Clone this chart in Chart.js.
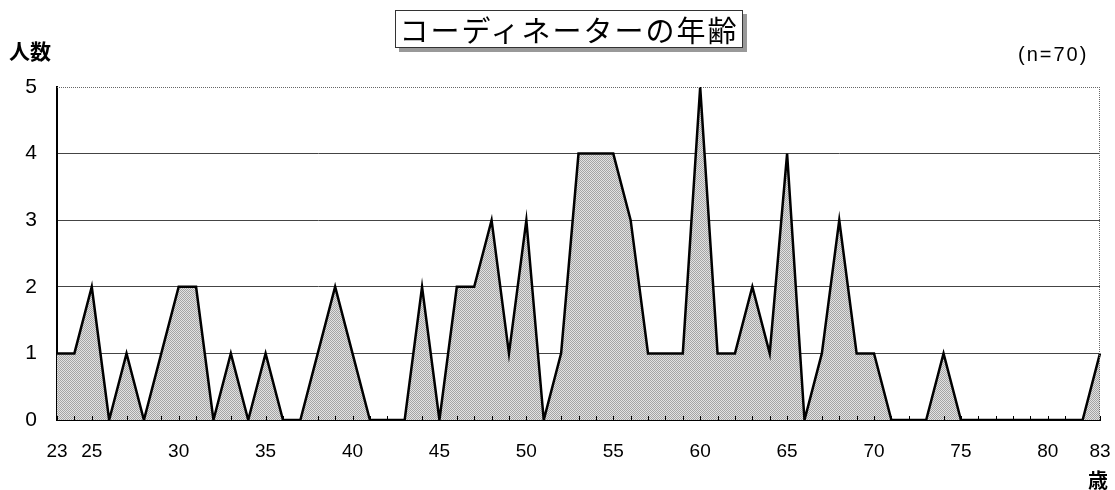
<!DOCTYPE html>
<html>
<head>
<meta charset="utf-8">
<script src="https://cdn.jsdelivr.net/npm/chart.js@4/dist/chart.umd.min.js"></script>
<style>
body { margin:0; background:#fff; }
#wrap { position:relative; width:1115px; height:490px; overflow:hidden; }
#title { position:absolute; left:395px; top:10px; width:346px; height:36px; border:1px solid #333;
  box-shadow:4px 4px 0 #999; font-family:"Noto Sans CJK JP"; font-size:29px; line-height:36px;
  letter-spacing:2px; text-align:center; background:#fff; }
.lbl { position:absolute; font-family:"Noto Sans CJK JP"; color:#000; line-height:1; }
</style>
</head>
<body>
<div id="wrap">
<canvas id="ageChart" width="1115" height="490"></canvas>
<div id="title">コーディネーターの年齢</div>
<div class="lbl" style="left:9px;top:40px;font-size:21px;font-weight:bold;">人数</div>
<div class="lbl" style="left:1018px;top:44px;font-size:20px;letter-spacing:2px;font-family:'Liberation Sans';">(n=70)</div>
<div class="lbl" style="left:1088px;top:470px;font-size:20px;font-weight:bold;">歳</div>
</div>
<script>
// ages 23..83
var ages = [];
for (var a = 23; a <= 83; a++) ages.push(String(a));
var counts = [1,1,2,0,1,0,1,2,2,0,1,0,1,0,0,1,2,1,0,0,0,2,0,2,2,3,1,3,0,1,4,4,4,3,1,1,1,5,1,1,2,1,4,0,1,3,1,1,0,0,0,1,0,0,0,0,0,0,0,0,1];
var shownAges = ["23","25","30","35","40","45","50","55","60","65","70","75","80","83"];
var yTicks = [0,1,2,3,4,5];

var makePattern = function(){
	var c = document.createElement("canvas");
	c.width = 2; c.height = 2;
	var g = c.getContext("2d");
	g.fillStyle = "#e2e2e2"; g.fillRect(0,0,2,2);
	g.fillStyle = "#a4a4a4"; g.fillRect(0,0,1,1); g.fillRect(1,1,1,1);
	return g.createPattern(c, "repeat");
};

var framePlugin = {
	id: "frame",
	afterDraw: function(chart){
		var ctx = chart.ctx, ca = chart.chartArea, xs = chart.scales.x;
		ctx.save();
		ctx.strokeStyle = "#666";
		ctx.lineWidth = 1;
		ctx.setLineDash([1,1]);
		ctx.beginPath();
		ctx.moveTo(ca.left, ca.top + 0.5); ctx.lineTo(ca.right, ca.top + 0.5);
		ctx.moveTo(ca.right - 0.5, ca.top); ctx.lineTo(ca.right - 0.5, ca.bottom);
		ctx.stroke();
		ctx.setLineDash([]);
		ctx.strokeStyle = "#000";
		ctx.beginPath();
		for (var i = 0; i < ages.length; i++) {
			var x = Math.round(xs.getPixelForValue(i)) + 0.5;
			ctx.moveTo(x, ca.bottom); ctx.lineTo(x, ca.bottom - 4);
		}
		ctx.stroke();
		ctx.restore();
	}
};

new Chart(document.getElementById("ageChart").getContext("2d"), {
	type: "line",
	data: {
		labels: ages,
		datasets: [{
			data: counts,
			borderColor: "#000",
			borderWidth: 2.5,
			backgroundColor: makePattern(),
			fill: "origin",
			tension: 0,
			pointRadius: 0
		}]
	},
	plugins: [framePlugin],
	options: {
		responsive: false,
		animation: false,
		layout: { padding: { left: 0, right: 15, top: 87, bottom: 0 } },
		plugins: { legend: { display: false }, tooltip: { enabled: false } },
		scales: {
			x: {
				offset: false,
				grid: { display: false },
				border: { color: "#000", width: 2 },
				ticks: {
					autoSkip: false, maxRotation: 0, padding: 12, color: "#000",
					font: { family: "Liberation Sans", size: 19 },
					callback: function(v, i){ return shownAges.indexOf(ages[i]) >= 0 ? ages[i] : ""; }
				},
				afterFit: function(s){ s.height = 70; s.paddingLeft = 0; s.paddingRight = 0; }
			},
			y: {
				min: 0, max: 5,
				afterBuildTicks: function(s){ s.ticks = yTicks.map(function(v){ return { value: v }; }); },
				grid: {
					drawTicks: false,
					color: function(c){ return (c.tick && c.tick.value > 0 && c.tick.value < 5) ? "#444" : "rgba(0,0,0,0)"; },
					lineWidth: 1
				},
				border: { color: "#000", width: 2 },
				ticks: { padding: 20, color: "#000", font: { family: "Liberation Sans", size: 21 } },
				afterFit: function(s){ s.width = 57; s.paddingTop = 0; s.paddingBottom = 0; }
			}
		}
	}
});
</script>
</body>
</html>
